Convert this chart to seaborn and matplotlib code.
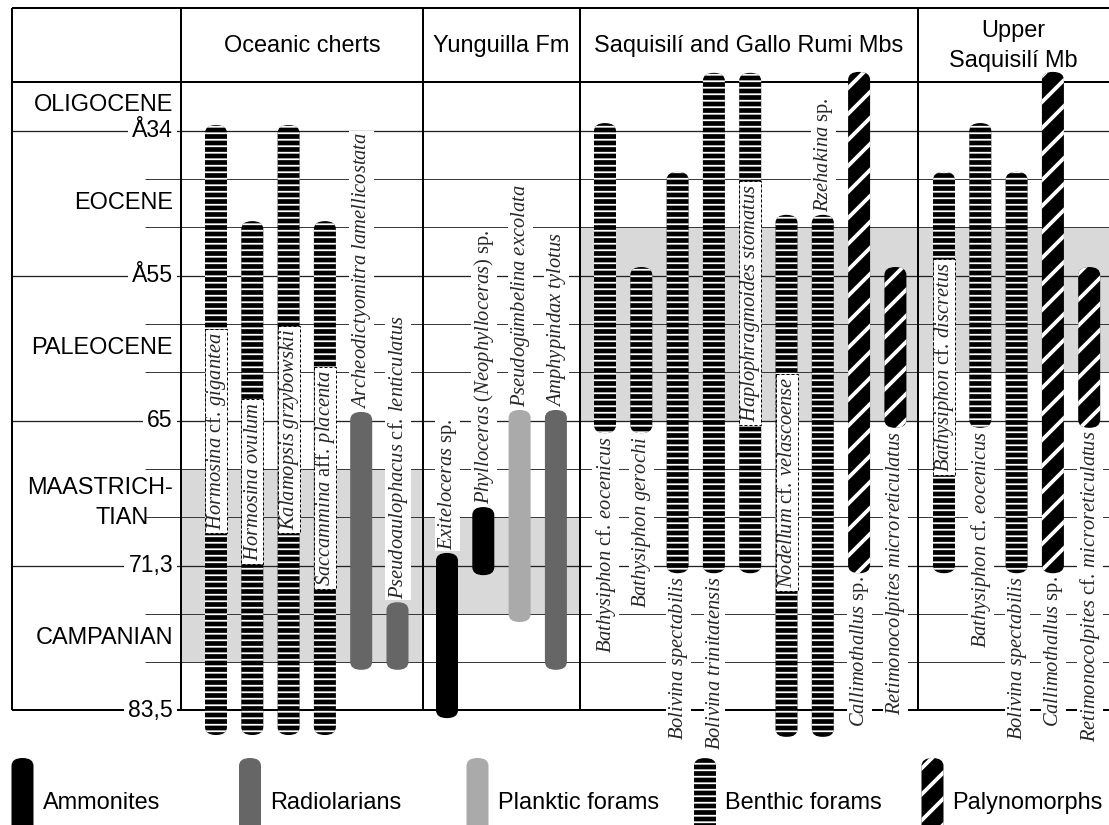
import numpy as np
import matplotlib
matplotlib.use("Agg")
import matplotlib.pyplot as plt
from matplotlib.patches import FancyBboxPatch, Rectangle
import seaborn as sns

# ------------------------------------------------------------------ data
units = ["Oceanic cherts", "Yunguilla Fm", "Saquisilí and Gallo Rumi Mbs",
         "Upper\nSaquisilí Mb"]
epochs = ["OLIGOCENE", "EOCENE", "PALEOCENE", "MAASTRICH-", "TIAN", "CAMPANIAN"]
epoch_rows = [0.47, 2.5, 5.5, 8.4, 9.02, 11.5]
age_labels = ["Å34", "Å55", "65", "71,3", "83,5"]
age_rows = [1, 4, 7, 10, 13]
minor_rows = [2, 3, 5, 6, 8, 9, 11, 12]

groups = ["Ammonites", "Radiolarians", "Planktic forams", "Benthic forams",
          "Palynomorphs"]

taxa = [
    "Hormosina cf. gigantea", "Hormosina ovulum", "Kalamopsis grzybowskii",
    "Saccammina aff. placenta", "Archeodictyomitra lamellicostata",
    "Pseudoaulophacus cf. lenticulatus",
    "Exiteloceras sp.", "Phylloceras (Neophylloceras) sp.",
    "Pseudogümbelina excolata", "Amphypindax tylotus",
    "Bathysiphon cf. eocenicus", "Bathysiphon gerochi", "Bolivina spectabilis",
    "Bolivina trinitatensis", "Haplophragmoides stomatus",
    "Nodellum cf. velascoense", "Rzehakina sp.", "Callimothallus sp.",
    "Retimonocolpites microreticulatus",
    "Bathysiphon cf. discretus", "Bathysiphon cf. eocenicus",
    "Bolivina spectabilis", "Callimothallus sp.",
    "Retimonocolpites cf. microreticulatus",
]
taxon_unit = [0, 0, 0, 0, 0, 0,
              1, 1, 1, 1,
              2, 2, 2, 2, 2, 2, 2, 2, 2,
              3, 3, 3, 3, 3]
taxon_group = ["Benthic forams"] * 4 + ["Radiolarians"] * 2 + \
    ["Ammonites", "Ammonites", "Planktic forams", "Radiolarians"] + \
    ["Benthic forams"] * 7 + ["Palynomorphs"] * 2 + \
    ["Benthic forams"] * 3 + ["Palynomorphs"] * 2
# range extent in chart rows (0 = header line, 13 = 83,5 Ma line)
range_top = [0.88, 2.87, 0.88, 2.87, 6.82, 10.76,
             9.74, 8.79, 6.78, 6.78,
             0.84, 3.82, 1.85, -0.2, -0.2, 2.74, 2.74, -0.22, 3.82,
             1.85, 0.84, 1.85, -0.22, 3.82]
range_base = [13.51, 13.51, 13.51, 13.51, 12.16, 12.16,
              13.16, 10.2, 11.17, 12.16,
              7.26, 7.26, 10.16, 10.16, 10.16, 13.55, 13.55, 10.16, 7.15,
              10.16, 7.15, 10.16, 10.16, 7.15]
label_mode = ["in", "in", "in", "in", "above", "above",
              "above", "above", "above", "above",
              "below", "below", "below", "below", "in", "in", "above", "below", "below",
              "in", "below", "below", "below", "below"]
label_row = [7.21, 8.27, 7.19, 8.19, None, None,
             None, None, None, None,
             None, None, None, None, 4.57, 8.28, None, None, None,
             5.89, None, None, None, None]

shade_top = [8, 9, 3, 3]
shade_base = [12, 11, 7, 6]

# ------------------------------------------------------------------ layout / style
DPI = 78
W, H = 1109, 825
PX_ROW = 48.3
Y0 = 82.5
FRAME_LEFT = 12
COL_EDGES = [181, 423, 580, 918, 1109]
FIRST_OFFSET = [35, 24, 25, 26]
SLOT = 36.3
BAR_W = 22
CAP_PX = 8


def px2row(py):
    return (py - Y0) / PX_ROW


def fpt(px):
    return px * 72.0 / DPI


sns.set_theme(style="white")
plt.rcParams["font.family"] = ["Liberation Sans", "DejaVu Sans"]
plt.rcParams["mathtext.fontset"] = "custom"
plt.rcParams["mathtext.rm"] = "Liberation Serif"
plt.rcParams["mathtext.it"] = "Liberation Serif:italic"
plt.rcParams["mathtext.bf"] = "Liberation Serif:bold"

group_style = {
    "Ammonites": dict(fc="black", hatch=None, hlw=0),
    "Radiolarians": dict(fc="#666666", hatch=None, hlw=0),
    "Planktic forams": dict(fc="#aaaaaa", hatch=None, hlw=0),
    "Benthic forams": dict(fc="black", hatch="--", hlw=fpt(1.8)),
    "Palynomorphs": dict(fc="black", hatch="/", hlw=fpt(3.8)),
}

fig = plt.figure(figsize=(W / DPI, H / DPI), dpi=DPI)
ax = fig.add_axes([0, 0, 1, 1])
ax.set_xlim(0, W)
ax.set_ylim(px2row(H), px2row(0))
ax.axis("off")


def capsule(x, top, base, group, z=3):
    st = group_style[group]
    asp = (CAP_PX / PX_ROW) / (BAR_W / 2)
    with plt.rc_context({"hatch.linewidth": st["hlw"] if st["hlw"] else 1.0,
                         "hatch.color": "white"}):
        p = FancyBboxPatch((x - BAR_W / 2, top), BAR_W, base - top,
                           boxstyle=f"round,pad=0,rounding_size={BAR_W / 2}",
                           mutation_aspect=asp, facecolor=st["fc"],
                           edgecolor="white", linewidth=0,
                           hatch=st["hatch"], zorder=z)
        if st["hatch"] and hasattr(p, "set_hatch_linewidth"):
            p.set_hatch_linewidth(st["hlw"])
    ax.add_patch(p)
    return p


def mathname(name):
    words = name.split(" ")
    out = ""
    for i, w in enumerate(words):
        roman = w in ("cf.", "aff.", "sp.")
        if roman:
            out += r"\mathrm{" + w + "}"
        elif w.startswith("(") and w.endswith(")"):
            out += r"\mathrm{(}\mathit{" + w[1:-1] + r"}\mathrm{)}"
        else:
            out += r"\mathit{" + w + "}"
        if i < len(words) - 1:
            out += r"\:" if roman else r"\ "
    return "$" + out + "$"


# shading
for i in range(4):
    ax.add_patch(Rectangle((COL_EDGES[i], shade_top[i]),
                           COL_EDGES[i + 1] - COL_EDGES[i],
                           shade_base[i] - shade_top[i],
                           facecolor="#d9d9d9", edgecolor="none", zorder=0))

# grid lines
ax.hlines(minor_rows, 145, W, color="#3a3a3a", lw=fpt(1.0), zorder=1)
ax.hlines(age_rows[:-1], FRAME_LEFT, W, color="#222222", lw=fpt(1.3), zorder=1)
ax.hlines([age_rows[-1]], FRAME_LEFT, W, color="black", lw=fpt(2.0), zorder=1)

# frame
top_frame = px2row(8)
ax.hlines([top_frame, 0], FRAME_LEFT, W, color="black", lw=fpt(2.0), zorder=2)
ax.vlines([FRAME_LEFT] + COL_EDGES[:-1], top_frame, age_rows[-1], color="black",
          lw=fpt(2.0), zorder=2)

# headers
for i, u in enumerate(units):
    ax.text((COL_EDGES[i] + COL_EDGES[i + 1]) / 2, px2row(46), u,
            ha="center", va="center", fontsize=fpt(23.5), color="black",
            linespacing=1.5, zorder=5)

# left column
for lab, r in zip(age_labels, age_rows):
    ax.text(173, r, lab, ha="right", va="center", fontsize=fpt(23),
            color="black", zorder=5,
            bbox=dict(boxstyle="square,pad=0.18", fc="white", ec="none"))
for i, (lab, r) in enumerate(zip(epochs, epoch_rows)):
    x = 149 if lab == "TIAN" else 173
    ax.text(x, r, lab, ha="right", va="center", fontsize=fpt(23.5),
            color="black", zorder=5)

# ranges
slot_count = [0, 0, 0, 0]
gap = 3 / PX_ROW
boxed = []
for name, u, g, t, b, mode, lr in zip(taxa, taxon_unit, taxon_group, range_top,
                                      range_base, label_mode, label_row):
    x = COL_EDGES[u] + FIRST_OFFSET[u] + slot_count[u] * SLOT
    slot_count[u] += 1
    capsule(x, t, b, g)
    txt = mathname(name)
    if mode == "in":
        tt = ax.text(x + 0.5, lr, txt, rotation=90, ha="center", va="center",
                     fontsize=fpt(20.5), zorder=6)
        boxed.append((x, tt))
    elif mode == "above":
        ax.text(x + 0.5, t - gap, txt, rotation=90, ha="center", va="bottom",
                fontsize=fpt(20.5), zorder=6,
                bbox=dict(boxstyle="square,pad=0.05", fc="white", ec="none"))
    else:
        ax.text(x + 0.5, b + gap, txt, rotation=90, ha="center", va="top",
                fontsize=fpt(20.5), zorder=6,
                bbox=dict(boxstyle="square,pad=0.05", fc="white", ec="none"))

# dashed white boxes behind labels written inside a range bar
fig.canvas.draw()
renderer = fig.canvas.get_renderer()
inv = ax.transData.inverted()
for x, tt in boxed:
    bb = tt.get_window_extent(renderer)
    (_, r0), (_, r1) = inv.transform([[bb.x0, bb.y0], [bb.x1, bb.y1]])
    rt, rb = min(r0, r1) - 3 / PX_ROW, max(r0, r1) + 3 / PX_ROW
    ax.add_patch(Rectangle((x - BAR_W / 2, rt), BAR_W, rb - rt,
                           facecolor="white", edgecolor="black",
                           lw=fpt(1.0), ls=(0, (3, 2)), zorder=5))

# legend
for i, g in enumerate(groups):
    lx = 22.5 + i * 227.5
    capsule(lx, px2row(758), px2row(850), g)
    ax.text(lx + 20, px2row(803), g, ha="left", va="center",
            fontsize=fpt(23.5), color="black")

fig.savefig("out.png", dpi=DPI)
